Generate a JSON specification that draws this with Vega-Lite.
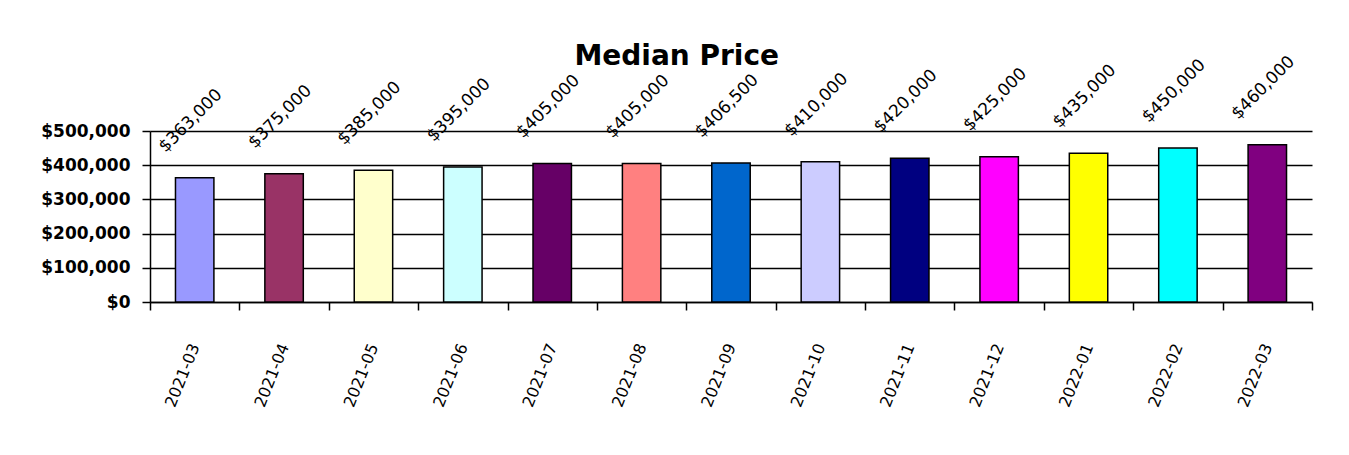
{
  "$schema": "https://vega.github.io/schema/vega-lite/v6.json",
  "width": 1162,
  "height": 171,
  "autosize": {"type": "none"},
  "padding": {"left": 150, "top": 131, "right": 37, "bottom": 153},
  "background": "white",
  "title": {
    "text": "Median Price",
    "font": "DejaVu Sans",
    "fontSize": 28,
    "fontWeight": "bold",
    "color": "black",
    "anchor": "middle",
    "frame": "bounds",
    "offset": -18
  },
  "data": {
    "values": [
      {"month": "2021-03", "price": 363000},
      {"month": "2021-04", "price": 375000},
      {"month": "2021-05", "price": 385000},
      {"month": "2021-06", "price": 395000},
      {"month": "2021-07", "price": 405000},
      {"month": "2021-08", "price": 405000},
      {"month": "2021-09", "price": 406500},
      {"month": "2021-10", "price": 410000},
      {"month": "2021-11", "price": 420000},
      {"month": "2021-12", "price": 425000},
      {"month": "2022-01", "price": 435000},
      {"month": "2022-02", "price": 450000},
      {"month": "2022-03", "price": 460000}
    ]
  },
  "encoding": {
    "x": {
      "field": "month",
      "type": "nominal",
      "sort": null,
      "scale": {"paddingInner": 0, "paddingOuter": 0},
      "axis": {
        "title": null,
        "labelAngle": -68,
        "labelFont": "DejaVu Sans",
        "labelFontSize": 16,
        "labelColor": "black",
        "tickBand": "extent",
        "tickSize": 8,
        "tickWidth": 1.5,
        "tickColor": "black",
        "domainColor": "black",
        "domainWidth": 1.5,
        "labelPadding": 34
      }
    },
    "y": {
      "field": "price",
      "type": "quantitative",
      "scale": {"domain": [0, 500000], "nice": false},
      "axis": {
        "title": null,
        "values": [0, 100000, 200000, 300000, 400000, 500000],
        "format": "$,.0f",
        "grid": true,
        "gridColor": "black",
        "gridWidth": 1.5,
        "gridOpacity": 1,
        "labelFont": "DejaVu Sans",
        "labelFontSize": 17,
        "labelFontWeight": "bold",
        "labelColor": "black",
        "tickSize": 8,
        "tickWidth": 1.5,
        "tickColor": "black",
        "domainColor": "black",
        "domainWidth": 1.5,
        "labelPadding": 12
      }
    }
  },
  "layer": [
    {
      "mark": {"type": "bar", "width": {"band": 0.43}, "stroke": "black", "strokeWidth": 1.5},
      "encoding": {
        "color": {
          "field": "month",
          "type": "nominal",
          "sort": null,
          "legend": null,
          "scale": {
            "range": ["#9999FF", "#993366", "#FFFFCC", "#CCFFFF", "#660066", "#FF8080", "#0066CC", "#CCCCFF", "#000080", "#FF00FF", "#FFFF00", "#00FFFF", "#800080"]
          }
        }
      }
    },
    {
      "mark": {
        "type": "text",
        "angle": 315,
        "align": "center",
        "baseline": "middle",
        "yOffset": -57,
        "xOffset": -4,
        "font": "DejaVu Sans",
        "fontSize": 17,
        "color": "black"
      },
      "encoding": {
        "text": {"field": "price", "type": "quantitative", "format": "$,.0f"}
      }
    }
  ],
  "config": {
    "view": {"stroke": null}
  }
}
